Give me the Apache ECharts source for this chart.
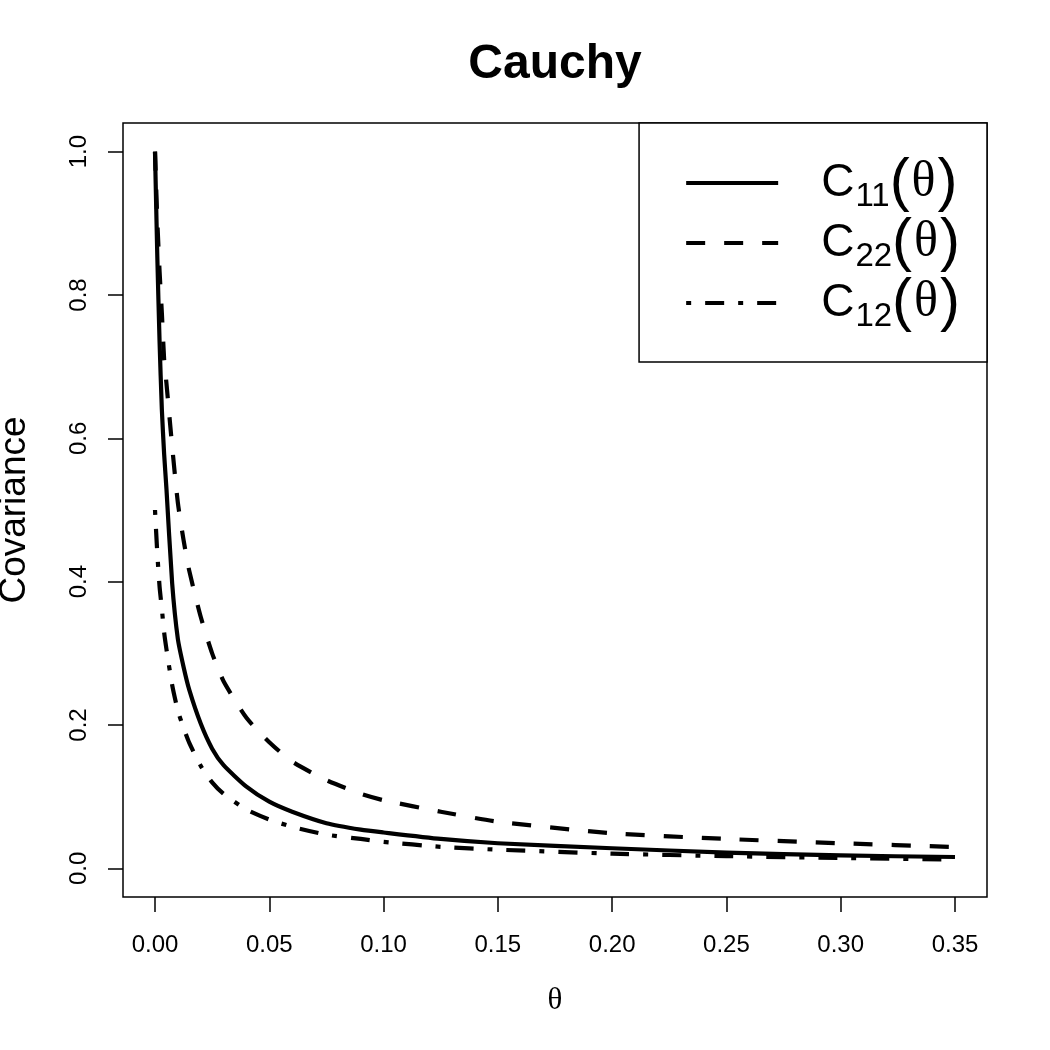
<!DOCTYPE html>
<html>
<head>
<meta charset="utf-8">
<script src="https://cdn.jsdelivr.net/npm/echarts@6/dist/echarts.min.js"></script>
<style>
  html, body { margin: 0; padding: 0; background: #fff; }
  #chart { width: 1050px; height: 1050px; }
</style>
</head>
<body>
<div id="chart"></div>
<script>
// values
const theta = [0, 0.001, 0.002, 0.003, 0.004, 0.005, 0.0075, 0.01, 0.0125, 0.015, 0.02, 0.025,
  0.03, 0.04, 0.05, 0.06, 0.075, 0.09, 0.10, 0.125, 0.15, 0.20, 0.25, 0.30, 0.35]
const c11 = [1.0, 0.855, 0.735, 0.64, 0.578, 0.53, 0.398, 0.32, 0.281, 0.249, 0.202, 0.167,
  0.144, 0.114, 0.093, 0.079, 0.063, 0.054, 0.050, 0.041, 0.035, 0.028, 0.022, 0.018, 0.0158]
const c22 = [1.0, 0.905, 0.833, 0.775, 0.71, 0.677, 0.589, 0.51, 0.458, 0.415, 0.351, 0.30,
  0.261, 0.21, 0.176, 0.149, 0.123, 0.104, 0.095, 0.079, 0.065, 0.049, 0.041, 0.035, 0.0298]
const c12 = [0.5, 0.44, 0.393, 0.362, 0.329, 0.306, 0.256, 0.22, 0.196, 0.175, 0.143, 0.12,
  0.104, 0.082, 0.068, 0.058, 0.047, 0.041, 0.037, 0.030, 0.026, 0.0205, 0.017, 0.0145, 0.0122]

const seriesNames = ['C11', 'C22', 'C12']
const xTicks = [0, 0.05, 0.1, 0.15, 0.2, 0.25, 0.3, 0.35]
const yTicks = [0, 0.2, 0.4, 0.6, 0.8, 1.0]

const sans = 'Liberation Sans'
const serif = 'Liberation Serif'

const chart = echarts.init(document.getElementById('chart'))

const mkLine = (name, values, dash) => ({
  name,
  type: 'line',
  showSymbol: false,
  symbol: 'none',
  color: '#000',
  smooth: 0.2,
  animation: false,
  lineStyle: { color: '#000', width: 4.2, type: dash, cap: 'butt', join: 'round' },
  data: theta.map((t, i) => [t, values[i]]),
})

chart.setOption({
  animation: false,
  backgroundColor: '#fff',
  title: {
    text: 'Cauchy',
    left: 555,
    top: 41,
    padding: 0,
    textAlign: 'center',
    textStyle: { fontFamily: sans, fontSize: 48, fontWeight: 'bold', color: '#000' },
  },
  grid: {
    left: 123, right: 63, top: 123, bottom: 153,
    show: true, borderColor: '#000', borderWidth: 1.5,
    outerBoundsMode: 'none',
  },
  xAxis: {
    type: 'value',
    min: -0.014,
    max: 0.364,
    axisLine: { show: false, onZero: false },
    splitLine: { show: false },
    axisTick: { show: true, inside: false, length: 15, customValues: xTicks, lineStyle: { color: '#000', width: 1.5 } },
    axisLabel: {
      customValues: xTicks,
      margin: 36,
      fontFamily: sans, fontSize: 24, color: '#000',
      formatter: (v) => v.toFixed(2),
    },
    name: 'θ',
    nameLocation: 'middle',
    nameGap: 88,
    nameTextStyle: { fontFamily: serif, fontSize: 31, color: '#000' },
  },
  yAxis: {
    type: 'value',
    min: -0.04,
    max: 1.04,
    axisLine: { show: false, onZero: false },
    splitLine: { show: false },
    axisTick: { show: true, inside: false, length: 15, customValues: yTicks, lineStyle: { color: '#000', width: 1.5 } },
    axisLabel: {
      customValues: yTicks,
      rotate: 90,
      margin: 32,
      fontFamily: sans, fontSize: 24, color: '#000',
      formatter: (v) => v.toFixed(1),
    },
    name: 'Covariance',
    nameLocation: 'middle',
    nameGap: 90,
    nameTextStyle: { fontFamily: sans, fontSize: 37, color: '#000' },
  },
  legend: {
    data: seriesNames,
    orient: 'vertical',
    right: 63,
    top: 123,
    padding: [30, 27, 29, 45],
    itemGap: 0,
    itemWidth: 92,
    itemHeight: 14,
    borderColor: '#000',
    borderWidth: 1.5,
    backgroundColor: '#fff',
    itemStyle: { opacity: 0 },
    lineStyle: { width: 4.2, opacity: 1 },
    formatter: (name) => `{c|C}{s|${name.slice(1)}}{p|(}{t|θ}{p|)}`,
    textStyle: {
      color: '#000',
      rich: {
        c: { fontFamily: sans, fontSize: 46, lineHeight: 60, padding: [0, 0, 0, 38] },
        s: { fontFamily: sans, fontSize: 33, lineHeight: 33, padding: [27, 0, 0, 1] },
        p: { fontFamily: sans, fontSize: 60, lineHeight: 60 },
        t: { fontFamily: serif, fontSize: 50, lineHeight: 60, padding: [0, 2, 0, 2] },
      },
    },
  },
  series: [
    mkLine(seriesNames[0], c11, 'solid'),
    mkLine(seriesNames[1], c22, [19, 19]),
    mkLine(seriesNames[2], c12, [5, 14, 19, 14]),
  ],
})
</script>
</body>
</html>
